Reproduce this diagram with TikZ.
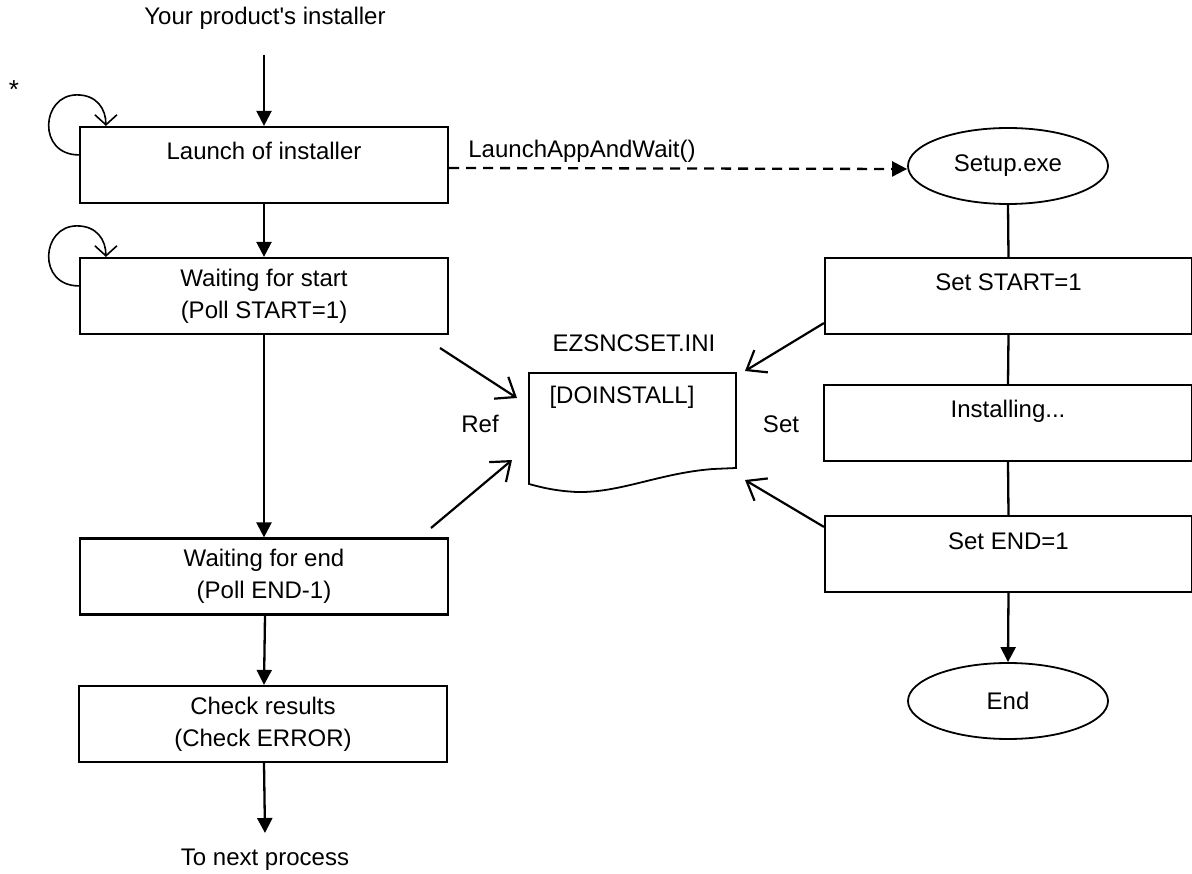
\documentclass[tikz,border=0pt]{standalone}
\usepackage{fontspec}
\setmainfont{Liberation Sans}
\usetikzlibrary{arrows.meta,shapes.geometric,calc}
\begin{document}
\begin{tikzpicture}[x=1pt,y=-1pt,
  font=\fontsize{24}{32}\selectfont,
  box/.style={draw, line width=2.2pt, minimum width=368pt, minimum height=76pt, inner sep=0pt, align=center},
  onel/.style={text height=17pt, text depth=27pt},
  oval/.style={draw, ellipse, line width=1.8pt, minimum width=200pt, minimum height=76pt, inner sep=0pt},
  flow/.style={line width=2.3pt, -{Triangle[length=15pt,width=15pt]}},
  plainline/.style={line width=2.3pt},
  refarrow/.style={line width=2.2pt, -{Straight Barb[length=17pt,width=26pt]}},
  looparrow/.style={line width=1.6pt, -{Straight Barb[length=10pt,width=22pt]}},
]
\useasboundingbox (0,0) rectangle (1192,874);

% left column
\node (src) at (265,18) {Your product\textquotesingle s installer};
\node[anchor=base, font=\fontsize{26}{32}\selectfont] (star) at (14,99) {*};
\node[box,onel] (b1) at (264,165) {Launch of installer};
\node[box] (b2) at (264,296) {Waiting for start\\(Poll START=1)};
\node[box] (b3) at (264,576.5) {Waiting for end\\(Poll END-1)};
\node[box] (b4) at (263,724) {Check results\\(Check ERROR)};
\node (nxt) at (265,860) {To next process};

% right column
\node[oval] (setup) at (1008,166) {Setup.exe};
\node[box,onel,minimum width=367pt] (s1) at (1008.5,296) {Set START=1};
\node[box,onel,minimum width=368pt] (s2) at (1008,423) {Installing...};
\node[box,onel,minimum width=367pt] (s3) at (1008.5,554) {Set END=1};
\node[oval] (end) at (1008,701) {End};

% document
\node[inner sep=0pt, minimum width=207pt, minimum height=111pt] (doc) at (632.5,428.5) {};
\draw[line width=1.8pt] (529,373) -- (736,373) -- (736,468) -- (713,469)
  .. controls (660,473) and (620,493) .. (577,492)
  .. controls (555,491) and (540,487) .. (529,484) -- cycle;
\node[anchor=west] (sect) at (546,397) {[DOINSTALL]};
\node (ini) at (634,343) {EZSNCSET.INI};
\node (refl) at (480,424) {Ref};
\node (setl) at (781,424) {Set};
\node (law) at (582,151) {LaunchAppAndWait()};

% connectors left
\coordinate (srcend) at (264,55);
\coordinate (nxtin) at (264,833);
\draw[flow] (srcend) -- (b1.north);
\draw[flow] (b1.south) -- (b2.north);
\draw[flow] (b2.south) -- (b3.north);
\draw[flow] ([xshift=1pt]b3.south) -- ([xshift=1pt]b4.north);
\draw[flow] ([xshift=1pt]b4.south) -- ([xshift=1pt]nxtin);

% self loops
\draw[looparrow] ($(b1.north west)+(0,29)$) .. controls +(-42,0) and +(-36,0) .. ++(-2,-60)
  .. controls +(20,0) and +(0,-17) .. ++(29,31);
\draw[looparrow] ($(b2.north west)+(0,29)$) .. controls +(-42,0) and +(-36,0) .. ++(-2,-60)
  .. controls +(20,0) and +(0,-17) .. ++(29,31);

% call
\draw[flow, dash pattern=on 10pt off 7pt] ([yshift=-3pt]b1.east) -- ([yshift=-3pt]setup.west);

% connectors right
\draw[plainline] (setup.south) -- (s1.north);
\draw[plainline] (s1.south) -- (s2.north);
\draw[plainline] (s2.south) -- (s3.north);
\draw[flow] (s3.south) -- (end.north);

% ref / set arrows
\coordinate (r1a) at (440,348);
\coordinate (r1b) at (517,398);
\coordinate (r2a) at (431,528);
\coordinate (r2b) at (512,460);
\coordinate (w1a) at ($(s1.south west)+(0,-12)$);
\coordinate (w1b) at (745,371);
\coordinate (w3a) at ($(s3.north west)+(0,12)$);
\coordinate (w3b) at (745,480);
\draw[refarrow] (r1a) -- (r1b);
\draw[refarrow] (r2a) -- (r2b);
\draw[refarrow] (w1a) -- (w1b);
\draw[refarrow] (w3a) -- (w3b);
\end{tikzpicture}
\end{document}
